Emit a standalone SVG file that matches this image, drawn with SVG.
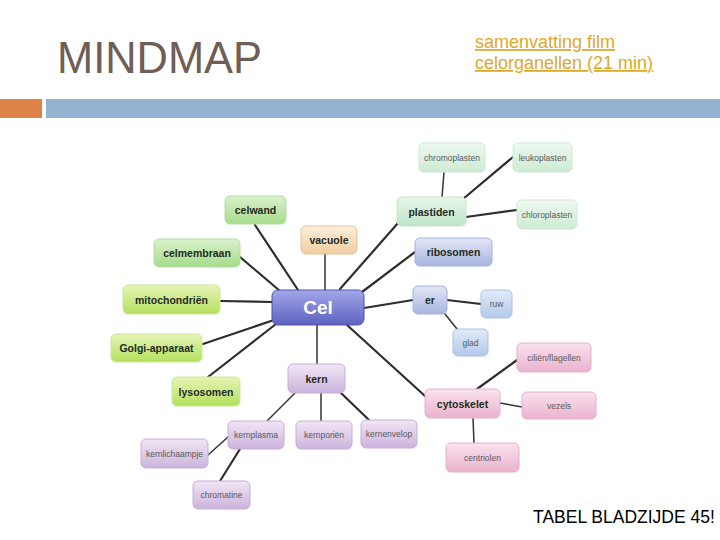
<svg xmlns="http://www.w3.org/2000/svg" width="720" height="540" viewBox="0 0 720 540">
<defs>
<linearGradient id="gGreen" x1="0" y1="0" x2="0" y2="1"><stop offset="0" stop-color="#d9f1cb"/><stop offset="1" stop-color="#a6db8c"/></linearGradient>
<linearGradient id="gLime" x1="0" y1="0" x2="0" y2="1"><stop offset="0" stop-color="#e6f5b6"/><stop offset="1" stop-color="#b4df5e"/></linearGradient>
<linearGradient id="gMint" x1="0" y1="0" x2="0" y2="1"><stop offset="0" stop-color="#eef9f1"/><stop offset="1" stop-color="#cdebd4"/></linearGradient>
<linearGradient id="gMintB" x1="0" y1="0" x2="0" y2="1"><stop offset="0" stop-color="#e6f6ea"/><stop offset="1" stop-color="#bfe5c8"/></linearGradient>
<linearGradient id="gBlue" x1="0" y1="0" x2="0" y2="1"><stop offset="0" stop-color="#e2e7f6"/><stop offset="1" stop-color="#a8b4e0"/></linearGradient>
<linearGradient id="gBlueL" x1="0" y1="0" x2="0" y2="1"><stop offset="0" stop-color="#e1ebf8"/><stop offset="1" stop-color="#b3c8ec"/></linearGradient>
<linearGradient id="gPink" x1="0" y1="0" x2="0" y2="1"><stop offset="0" stop-color="#fae2ee"/><stop offset="1" stop-color="#eab2cd"/></linearGradient>
<linearGradient id="gPurple" x1="0" y1="0" x2="0" y2="1"><stop offset="0" stop-color="#f1e6f5"/><stop offset="1" stop-color="#cbb3dc"/></linearGradient>
<linearGradient id="gCel" x1="0" y1="0" x2="0" y2="1"><stop offset="0" stop-color="#a3a7ea"/><stop offset="1" stop-color="#5d62c0"/></linearGradient>
<linearGradient id="gVac" x1="0" y1="0" x2="0" y2="1"><stop offset="0" stop-color="#fcefdc"/><stop offset="1" stop-color="#efcda2"/></linearGradient>
</defs>
<style>
.main{font-family:"Liberation Sans",Arial,sans-serif;font-weight:bold;font-size:10.5px;fill:#1f2a22;text-anchor:middle;dominant-baseline:central}
.sub{font-family:"Liberation Sans",Arial,sans-serif;font-size:8.5px;fill:#5a5a5a;text-anchor:middle;dominant-baseline:central}
.green{fill:url(#gGreen);stroke:#b4dda0;stroke-width:1}
.lime{fill:url(#gLime);stroke:#c9e79a;stroke-width:1}
.mint{fill:url(#gMint);stroke:#cfe9d6;stroke-width:1}
.mintb{fill:url(#gMintB);stroke:#c4e4cc;stroke-width:1}
.blue{fill:url(#gBlue);stroke:#a4b0da;stroke-width:1}
.bluel{fill:url(#gBlueL);stroke:#abc0e4;stroke-width:1}
.pink{fill:url(#gPink);stroke:#e4b0c8;stroke-width:1}
.purple{fill:url(#gPurple);stroke:#c6b0d6;stroke-width:1}
.vac{fill:url(#gVac);stroke:#e4c195;stroke-width:1}
.cel{fill:url(#gCel);stroke:#4e53aa;stroke-width:1}
.c1{stroke:#2e2e2e;stroke-width:2.2;stroke-linecap:round}
.c2{stroke:#333;stroke-width:1.5;stroke-linecap:round}
</style>
<rect width="720" height="540" fill="#fff"/>
<g id="header">
<text x="57" y="73" font-family="'Liberation Sans',Arial,sans-serif" font-size="44" fill="#6e5e56" textLength="205" lengthAdjust="spacingAndGlyphs">MINDMAP</text>
<text x="475" y="48" font-family="'Liberation Sans',Arial,sans-serif" font-size="18" fill="#e0a82a" text-decoration="underline">samenvatting film</text>
<text x="475" y="69" font-family="'Liberation Sans',Arial,sans-serif" font-size="18" fill="#e0a82a" text-decoration="underline">celorganellen (21 min)</text>
<rect x="0" y="99" width="42" height="19" fill="#dd8347"/>
<rect x="46" y="99" width="674" height="19" fill="#94b3d0"/>
</g>
<g id="connectors">
<line class="c1" x1="255" y1="225" x2="298" y2="290"/>
<line class="c1" x1="240" y1="257" x2="280" y2="291"/>
<line class="c1" x1="220" y1="301" x2="272" y2="302"/>
<line class="c1" x1="203" y1="344" x2="274" y2="320"/>
<line class="c1" x1="208" y1="377" x2="276" y2="324"/>
<line class="c2" x1="325" y1="254" x2="325" y2="290"/>
<line class="c1" x1="340" y1="289" x2="398" y2="223"/>
<line class="c1" x1="362" y1="292" x2="415" y2="252"/>
<line class="c1" x1="364" y1="308" x2="413" y2="300"/>
<line class="c1" x1="347" y1="325" x2="425" y2="396"/>
<line class="c2" x1="317" y1="325" x2="317" y2="364"/>
<line class="c2" x1="442" y1="197" x2="444" y2="172"/>
<line class="c1" x1="463" y1="199" x2="513" y2="157"/>
<line class="c1" x1="466" y1="217" x2="517" y2="210"/>
<line class="c1" x1="447" y1="300" x2="481" y2="304"/>
<line class="c2" x1="445" y1="314" x2="457" y2="329"/>
<line class="c1" x1="477" y1="389" x2="517" y2="360"/>
<line class="c2" x1="500" y1="403" x2="522" y2="407"/>
<line class="c2" x1="473" y1="418" x2="474" y2="443"/>
<line class="c2" x1="295" y1="393" x2="267" y2="421"/>
<line class="c2" x1="321" y1="393" x2="321" y2="421"/>
<line class="c1" x1="341" y1="393" x2="369" y2="420"/>
<line class="c2" x1="208" y1="455" x2="228" y2="437"/>
<line class="c1" x1="240" y1="449" x2="220" y2="481"/>
</g>
<g id="cel"><rect class="cel" x="272" y="290" width="92" height="35" rx="6"/><text x="318" y="307.5" font-family="'Liberation Sans',Arial,sans-serif" font-weight="bold" font-size="19" fill="#fff" text-anchor="middle" dominant-baseline="central">Cel</text></g>
<g id="vacuole"><rect class="vac" x="301" y="226" width="56" height="28" rx="5"/><text class="main" x="329" y="240">vacuole</text></g>
<g id="celwand"><rect class="green" x="225" y="196" width="61" height="28" rx="5"/><text class="main" x="255.5" y="210">celwand</text></g>
<g id="celmembraan"><rect class="green" x="154" y="239" width="86" height="28" rx="5"/><text class="main" x="197" y="253">celmembraan</text></g>
<g id="mitochondrien"><rect class="lime" x="123" y="285" width="97" height="29" rx="5"/><text class="main" x="171.5" y="299.5">mitochondriën</text></g>
<g id="golgi"><rect class="lime" x="111" y="334" width="91" height="28" rx="5"/><text class="main" x="156.5" y="348">Golgi-apparaat</text></g>
<g id="lysosomen"><rect class="lime" x="172" y="377" width="68" height="29" rx="5"/><text class="main" x="206" y="391.5">lysosomen</text></g>
<g id="plastiden"><rect class="mintb" x="397" y="197" width="69" height="29" rx="5"/><text class="main" x="431.5" y="211.5">plastiden</text></g>
<g id="chromoplasten"><rect class="mint" x="419" y="143" width="66" height="29" rx="5"/><text class="sub" x="452" y="157.5">chromoplasten</text></g>
<g id="leukoplasten"><rect class="mint" x="513" y="143" width="59" height="29" rx="5"/><text class="sub" x="542.5" y="157.5">leukoplasten</text></g>
<g id="chloroplasten"><rect class="mint" x="517" y="200" width="60" height="29" rx="5"/><text class="sub" x="547" y="214.5">chloroplasten</text></g>
<g id="ribosomen"><rect class="blue" x="415" y="238" width="77" height="28" rx="5"/><text class="main" x="453.5" y="252">ribosomen</text></g>
<g id="er"><rect class="blue" x="413" y="286" width="34" height="28" rx="5"/><text class="main" x="430" y="300">er</text></g>
<g id="ruw"><rect class="bluel" x="481" y="290" width="31" height="28" rx="5"/><text class="sub" x="496.5" y="304">ruw</text></g>
<g id="glad"><rect class="bluel" x="453" y="329" width="35" height="27" rx="5"/><text class="sub" x="470.5" y="342.5">glad</text></g>
<g id="cytoskelet"><rect class="pink" x="425" y="389" width="75" height="29" rx="5"/><text class="main" x="462.5" y="403.5">cytoskelet</text></g>
<g id="cilien"><rect class="pink" x="517" y="343" width="74" height="29" rx="5"/><text class="sub" x="554" y="357.5">ciliën/flagellen</text></g>
<g id="vezels"><rect class="pink" x="522" y="392" width="74" height="27" rx="5"/><text class="sub" x="559" y="405.5">vezels</text></g>
<g id="centriolen"><rect class="pink" x="446" y="443" width="73" height="29" rx="5"/><text class="sub" x="482.5" y="457.5">centriolen</text></g>
<g id="kern"><rect class="purple" x="288" y="364" width="57" height="29" rx="5"/><text class="main" x="316.5" y="378.5">kern</text></g>
<g id="kernplasma"><rect class="purple" x="228" y="421" width="56" height="28" rx="5"/><text class="sub" x="256" y="435">kernplasma</text></g>
<g id="kernporien"><rect class="purple" x="296" y="421" width="56" height="28" rx="5"/><text class="sub" x="324" y="435">kernporiën</text></g>
<g id="kernenvelop"><rect class="purple" x="361" y="420" width="56" height="28" rx="5"/><text class="sub" x="389" y="434">kernenvelop</text></g>
<g id="kernlichaampje"><rect class="purple" x="141" y="439" width="67" height="29" rx="5"/><text class="sub" x="174.5" y="453.5">kernlichaampje</text></g>
<g id="chromatine"><rect class="purple" x="193" y="481" width="57" height="28" rx="5"/><text class="sub" x="221.5" y="495">chromatine</text></g>
<g id="footer"><text x="533" y="523" font-family="'Liberation Sans',Arial,sans-serif" font-size="17.5" fill="#000">TABEL BLADZIJDE 45!</text></g>
</svg>
